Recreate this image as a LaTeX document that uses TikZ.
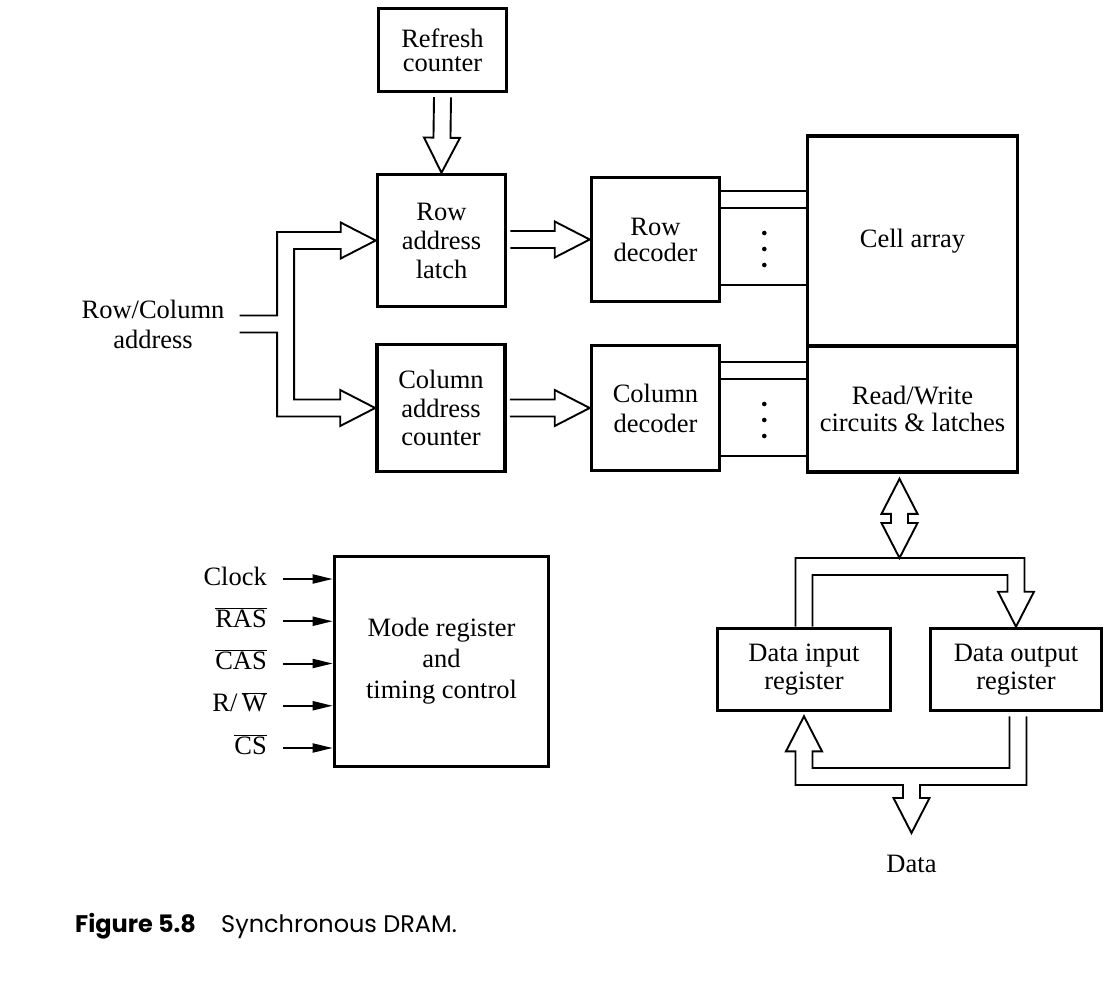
\documentclass[tikz,border=0pt]{standalone}
\usepackage{fontspec}
\setmainfont{Liberation Serif}
\newfontfamily\capfont{Poppins}
\usepackage{tikz}
\usetikzlibrary{arrows.meta, calc}

\newcommand{\busw}{8.5}
\newcommand{\headw}{18}
\newcommand{\headl}{35}
% hollow bus arrow, open at #1, tip at #2
\newcommand{\straightbus}[2]{%
  \coordinate (bushead) at ($(#2)!\headl pt!(#1)$);
  \draw[bus] ($(#1)!\busw pt!90:(#2)$) -- ($(bushead)!\busw pt!-90:(#1)$)
    -- ($(bushead)!\headw pt!-90:(#1)$) -- (#2)
    -- ($(bushead)!\headw pt!90:(#1)$) -- ($(bushead)!\busw pt!90:(#1)$)
    -- ($(#1)!\busw pt!-90:(#2)$);}
% hollow bus arrow with a tip at both ends
\newcommand{\twowaybus}[2]{%
  \coordinate (busheada) at ($(#1)!\headl pt!(#2)$);
  \coordinate (busheadb) at ($(#2)!\headl pt!(#1)$);
  \draw[bus] (#1) -- ($(busheada)!\headw pt!90:(#2)$) -- ($(busheada)!\busw pt!90:(#2)$)
    -- ($(busheadb)!\busw pt!-90:(#1)$) -- ($(busheadb)!\headw pt!-90:(#1)$) -- (#2)
    -- ($(busheadb)!\headw pt!90:(#1)$) -- ($(busheadb)!\busw pt!90:(#1)$)
    -- ($(busheada)!\busw pt!-90:(#2)$) -- ($(busheada)!\headw pt!-90:(#2)$) -- cycle;}

\begin{document}
\begin{tikzpicture}[x=1pt,y=-1pt,
  box/.style={draw,line width=3.6pt,align=center,inner sep=0pt,font=\fontsize{26.5}{28}\selectfont},
  leading/.style={font=\fontsize{26.5}{#1}\selectfont},
  lbl/.style={inner sep=0pt,align=center,font=\fontsize{26.5}{30}\selectfont},
  bus/.style={line width=1.9pt,line join=miter},
  wire/.style={line width=1.6pt},
  sig/.style={line width=2pt,-{Triangle[length=20pt,width=9pt]}}]
\useasboundingbox (0,0) rectangle (1119,984);

\node[box,minimum width=128pt,minimum height=83pt,leading=24] (refresh) at (442.5,50) {Refresh\\counter};
\node[box,minimum width=128pt,minimum height=132pt,leading=29] (latch) at (441.5,240.5) {Row\\address\\latch};
\node[box,minimum width=128pt,minimum height=127pt,leading=28.5] (colctr) at (441,408) {Column\\address\\counter};
\node[box,minimum width=128pt,minimum height=124pt,leading=26] (rowdec) at (655.5,239.5) {Row\\decoder};
\node[box,minimum width=128pt,minimum height=125pt,leading=30] (coldec) at (655.5,408) {Column\\decoder};
\node[box,minimum width=210pt,minimum height=210pt] (cell) at (912.5,241) {Cell array};
\node[box,minimum width=210pt,minimum height=126pt,leading=27] (rw) at (912.5,409) {Read/Write\\circuits \& latches};
\node[box,minimum width=214pt,minimum height=210pt,leading=31] (mode) at (441.5,661.5) {Mode register\\and\\timing control};
\node[box,minimum width=173pt,minimum height=82pt] (din) at (804,669.5) {Data input\\register};
\node[box,minimum width=171pt,minimum height=82pt] (dout) at (1016,669.5) {Data output\\register};

\node[lbl] (rcaddr) at (153,324) {Row/Column\\address};
\node[lbl] (data) at (911.5,864) {Data};

\coordinate (rcin) at ($(rcaddr.east)+(15,0)$);
\coordinate (rcfork) at ($(rcin)+(46,0)$);
\coordinate (refout) at ($(refresh.south)+(0,4)$);
\coordinate (latchout) at ($(latch.east |- rowdec.west)+(3,0)$);
\coordinate (ctrout) at ($(colctr.east |- coldec.west)+(3,0)$);
\coordinate (dbus) at (899.5,558);
\coordinate (rwtip) at ($(dbus |- rw.south)+(0,5)$);
\coordinate (dinin) at ($(din.south)+(0,4)$);
\coordinate (doutout) at ($(dout.south)+(2,4)$);
\coordinate (datatip) at ($(data.north)+(0,-22)$);
\coordinate (dbot) at ($(datatip)+(0,-48)$);

\straightbus{refout}{latch.north}
\straightbus{latchout}{rowdec.west}
\straightbus{ctrout}{coldec.west}
\twowaybus{rwtip}{dbus}

% address bus, split to both latches
\draw[bus] ($(rcin)+(0,-\busw)$) -- ($(rcfork)+(-\busw,-\busw)$)
  -- ($(rcfork |- latch.west)+(-\busw,-\busw)$) -- ($(latch.west)+(-\headl,-\busw)$)
  -- ($(latch.west)+(-\headl,-\headw)$) -- (latch.west)
  -- ($(latch.west)+(-\headl,\headw)$) -- ($(latch.west)+(-\headl,\busw)$)
  -- ($(rcfork |- latch.west)+(\busw,\busw)$) -- ($(rcfork |- colctr.west)+(\busw,-\busw)$)
  -- ($(colctr.west)+(-\headl,-\busw)$) -- ($(colctr.west)+(-\headl,-\headw)$)
  -- (colctr.west) -- ($(colctr.west)+(-\headl,\headw)$)
  -- ($(colctr.west)+(-\headl,\busw)$) -- ($(rcfork |- colctr.west)+(-\busw,\busw)$)
  -- ($(rcfork)+(-\busw,\busw)$) -- ($(rcin)+(0,\busw)$);

% data bus above the registers
\draw[bus] ($(din.north)+(-\busw,0)$) -- ($(din.north |- dbus)+(-\busw,0)$)
  -- ($(dout.north |- dbus)+(\busw,0)$) -- ($(dout.north)+(\busw,-\headl)$)
  -- ($(dout.north)+(\headw,-\headl)$) -- (dout.north)
  -- ($(dout.north)+(-\headw,-\headl)$) -- ($(dout.north)+(-\busw,-\headl)$)
  -- ($(dout.north |- dbus)+(-\busw,2*\busw)$) -- ($(din.north |- dbus)+(\busw,2*\busw)$)
  -- ($(din.north)+(\busw,0)$);

% data bus below the registers
\draw[bus] ($(doutout)+(-\busw,0)$) -- ($(doutout |- dbot)+(-\busw,-2*\busw)$)
  -- ($(dinin |- dbot)+(\busw,-2*\busw)$) -- ($(dinin)+(\busw,\headl)$)
  -- ($(dinin)+(\headw,\headl)$) -- (dinin) -- ($(dinin)+(-\headw,\headl)$)
  -- ($(dinin)+(-\busw,\headl)$) -- ($(dinin |- dbot)+(-\busw,0)$)
  -- ($(dbot)+(-\busw,0)$) -- ($(datatip)+(-\busw,-\headl)$)
  -- ($(datatip)+(-\headw,-\headl)$) -- (datatip) -- ($(datatip)+(\headw,-\headl)$)
  -- ($(datatip)+(\busw,-\headl)$) -- ($(dbot)+(\busw,0)$)
  -- ($(doutout |- dbot)+(\busw,0)$) -- ($(doutout)+(\busw,0)$);

\foreach \dy in {15.5,32.5,109.5}
  \draw[wire] ($(rowdec.north east)+(0,\dy)$) -- ($(rowdec.north east -| cell.west)+(0,\dy)$);
\foreach \dy in {18.5,35.5,112.5}
  \draw[wire] ($(coldec.north east)+(0,\dy)$) -- ($(coldec.north east -| cell.west)+(0,\dy)$);
\foreach \dy in {-16,0,16} {
  \fill ($(rowdec.east)+(43,9.5+\dy)$) circle (2.3);
  \fill ($(coldec.east)+(43,12+\dy)$) circle (2.3);
}

\foreach \inname [count=\i] in {Clock,$\overline{\hbox{RAS}}$,$\overline{\hbox{CAS}}$,R/\,$\overline{\hbox{W}}$,$\overline{\hbox{CS}}$} {
  \node[lbl,anchor=base east] (in\i) at (267,{542.75+42.25*\i}) {\inname};
  \draw[sig] ($(in\i.base east)+(16,-6)$) -- ($(mode.west |- in\i.base)+(0,-6)$);
}

\node[anchor=base west,inner sep=0pt,font=\capfont\bfseries\fontsize{24}{28}\selectfont] (fignum) at (75,932) {Figure 5.8};
\node[anchor=base west,inner sep=0pt,font=\capfont\fontsize{24}{28}\selectfont] (figtitle) at (221,932) {Synchronous DRAM.};
\end{tikzpicture}
\end{document}
